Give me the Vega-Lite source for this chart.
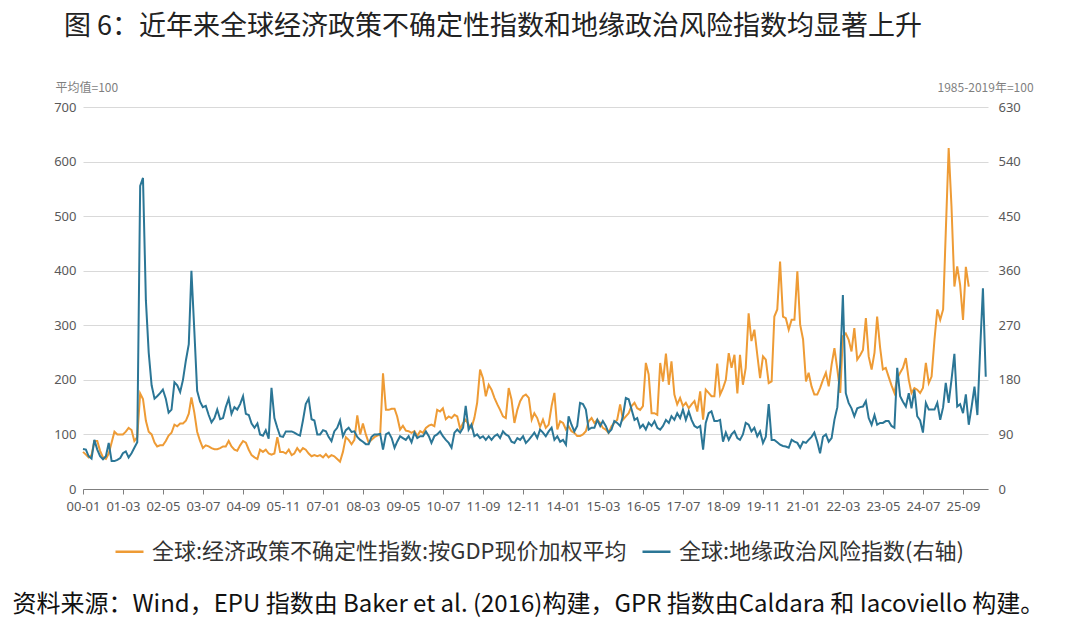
{
"$schema":"https://vega.github.io/schema/vega-lite/v6.json",
"width":905,"height":382,
"autosize":{"type":"none"},
"padding":{"left":83,"top":107,"right":92,"bottom":154},
"background":"white",
"title":{"text":"图 6：近年来全球经济政策不确定性指数和地缘政治风险指数均显著上升","anchor":"start","frame":"group","dx":-19,"offset":40,"fontSize":27,"font":"Noto Sans CJK SC","fontWeight":"normal","color":"#222222"},
"data":{"format":{"parse":{"d":"utc:'%Y-%m'"}},"values":[
{"d":"2000-01","e":68,"g":66},{"d":"2000-02","e":63,"g":65},{"d":"2000-03","e":58,"g":54},{"d":"2000-04","e":62,"g":50},{"d":"2000-05","e":88,"g":81},{"d":"2000-06","e":88,"g":65},{"d":"2000-07","e":70,"g":54},{"d":"2000-08","e":58,"g":49},{"d":"2000-09","e":55,"g":54},{"d":"2000-10","e":65,"g":76},{"d":"2000-11","e":85,"g":46},{"d":"2000-12","e":105,"g":46},
{"d":"2001-01","e":100,"g":48},{"d":"2001-02","e":100,"g":51},{"d":"2001-03","e":100,"g":59},{"d":"2001-04","e":105,"g":62},{"d":"2001-05","e":112,"g":52},{"d":"2001-06","e":108,"g":59},{"d":"2001-07","e":88,"g":68},{"d":"2001-08","e":95,"g":77},{"d":"2001-09","e":175,"g":500},{"d":"2001-10","e":165,"g":513},{"d":"2001-11","e":125,"g":311},{"d":"2001-12","e":105,"g":225},
{"d":"2002-01","e":100,"g":171},{"d":"2002-02","e":85,"g":149},{"d":"2002-03","e":78,"g":153},{"d":"2002-04","e":80,"g":158},{"d":"2002-05","e":80,"g":164},{"d":"2002-06","e":88,"g":149},{"d":"2002-07","e":98,"g":126},{"d":"2002-08","e":103,"g":131},{"d":"2002-09","e":118,"g":176},{"d":"2002-10","e":115,"g":171},{"d":"2002-11","e":120,"g":160},{"d":"2002-12","e":120,"g":180},
{"d":"2003-01","e":125,"g":212},{"d":"2003-02","e":138,"g":239},{"d":"2003-03","e":168,"g":360},{"d":"2003-04","e":140,"g":261},{"d":"2003-05","e":105,"g":162},{"d":"2003-06","e":88,"g":144},{"d":"2003-07","e":75,"g":135},{"d":"2003-08","e":80,"g":137},{"d":"2003-09","e":78,"g":122},{"d":"2003-10","e":75,"g":110},{"d":"2003-11","e":73,"g":117},{"d":"2003-12","e":73,"g":131},
{"d":"2004-01","e":75,"g":115},{"d":"2004-02","e":78,"g":117},{"d":"2004-03","e":78,"g":135},{"d":"2004-04","e":88,"g":149},{"d":"2004-05","e":78,"g":124},{"d":"2004-06","e":72,"g":135},{"d":"2004-07","e":70,"g":131},{"d":"2004-08","e":80,"g":140},{"d":"2004-09","e":88,"g":153},{"d":"2004-10","e":85,"g":124},{"d":"2004-11","e":72,"g":122},{"d":"2004-12","e":62,"g":108},
{"d":"2005-01","e":58,"g":101},{"d":"2005-02","e":55,"g":108},{"d":"2005-03","e":72,"g":90},{"d":"2005-04","e":68,"g":88},{"d":"2005-05","e":72,"g":97},{"d":"2005-06","e":65,"g":83},{"d":"2005-07","e":63,"g":167},{"d":"2005-08","e":65,"g":117},{"d":"2005-09","e":95,"g":101},{"d":"2005-10","e":68,"g":87},{"d":"2005-11","e":68,"g":86},{"d":"2005-12","e":65,"g":95},
{"d":"2006-01","e":72,"g":95},{"d":"2006-02","e":62,"g":95},{"d":"2006-03","e":65,"g":93},{"d":"2006-04","e":75,"g":90},{"d":"2006-05","e":68,"g":88},{"d":"2006-06","e":75,"g":113},{"d":"2006-07","e":72,"g":140},{"d":"2006-08","e":65,"g":149},{"d":"2006-09","e":60,"g":115},{"d":"2006-10","e":62,"g":113},{"d":"2006-11","e":60,"g":90},{"d":"2006-12","e":62,"g":90},
{"d":"2007-01","e":58,"g":97},{"d":"2007-02","e":64,"g":95},{"d":"2007-03","e":58,"g":86},{"d":"2007-04","e":62,"g":79},{"d":"2007-05","e":60,"g":95},{"d":"2007-06","e":55,"g":101},{"d":"2007-07","e":50,"g":113},{"d":"2007-08","e":68,"g":87},{"d":"2007-09","e":95,"g":97},{"d":"2007-10","e":90,"g":101},{"d":"2007-11","e":82,"g":94},{"d":"2007-12","e":90,"g":95},
{"d":"2008-01","e":135,"g":86},{"d":"2008-02","e":100,"g":81},{"d":"2008-03","e":120,"g":78},{"d":"2008-04","e":100,"g":74},{"d":"2008-05","e":85,"g":74},{"d":"2008-06","e":90,"g":86},{"d":"2008-07","e":95,"g":90},{"d":"2008-08","e":98,"g":90},{"d":"2008-09","e":100,"g":91},{"d":"2008-10","e":212,"g":65},{"d":"2008-11","e":145,"g":90},{"d":"2008-12","e":145,"g":93},
{"d":"2009-01","e":147,"g":84},{"d":"2009-02","e":147,"g":68},{"d":"2009-03","e":133,"g":78},{"d":"2009-04","e":109,"g":87},{"d":"2009-05","e":116,"g":84},{"d":"2009-06","e":107,"g":81},{"d":"2009-07","e":106,"g":87},{"d":"2009-08","e":103,"g":77},{"d":"2009-09","e":106,"g":93},{"d":"2009-10","e":97,"g":84},{"d":"2009-11","e":106,"g":87},{"d":"2009-12","e":103,"g":87},
{"d":"2010-01","e":112,"g":95},{"d":"2010-02","e":116,"g":87},{"d":"2010-03","e":118,"g":76},{"d":"2010-04","e":115,"g":87},{"d":"2010-05","e":145,"g":90},{"d":"2010-06","e":142,"g":95},{"d":"2010-07","e":148,"g":87},{"d":"2010-08","e":128,"g":81},{"d":"2010-09","e":133,"g":76},{"d":"2010-10","e":130,"g":68},{"d":"2010-11","e":136,"g":93},{"d":"2010-12","e":133,"g":98},
{"d":"2011-01","e":110,"g":93},{"d":"2011-02","e":121,"g":101},{"d":"2011-03","e":127,"g":137},{"d":"2011-04","e":118,"g":98},{"d":"2011-05","e":112,"g":106},{"d":"2011-06","e":130,"g":87},{"d":"2011-07","e":158,"g":90},{"d":"2011-08","e":219,"g":84},{"d":"2011-09","e":203,"g":87},{"d":"2011-10","e":170,"g":81},{"d":"2011-11","e":191,"g":87},{"d":"2011-12","e":182,"g":81},
{"d":"2012-01","e":167,"g":87},{"d":"2012-02","e":155,"g":90},{"d":"2012-03","e":145,"g":84},{"d":"2012-04","e":133,"g":95},{"d":"2012-05","e":130,"g":90},{"d":"2012-06","e":185,"g":87},{"d":"2012-07","e":164,"g":78},{"d":"2012-08","e":121,"g":76},{"d":"2012-09","e":145,"g":84},{"d":"2012-10","e":161,"g":81},{"d":"2012-11","e":170,"g":87},{"d":"2012-12","e":173,"g":76},
{"d":"2013-01","e":167,"g":81},{"d":"2013-02","e":127,"g":87},{"d":"2013-03","e":139,"g":93},{"d":"2013-04","e":130,"g":84},{"d":"2013-05","e":114,"g":98},{"d":"2013-06","e":127,"g":93},{"d":"2013-07","e":112,"g":87},{"d":"2013-08","e":118,"g":95},{"d":"2013-09","e":152,"g":101},{"d":"2013-10","e":176,"g":81},{"d":"2013-11","e":109,"g":87},{"d":"2013-12","e":124,"g":78},
{"d":"2014-01","e":121,"g":81},{"d":"2014-02","e":109,"g":73},{"d":"2014-03","e":115,"g":120},{"d":"2014-04","e":106,"g":106},{"d":"2014-05","e":103,"g":95},{"d":"2014-06","e":97,"g":104},{"d":"2014-07","e":97,"g":142},{"d":"2014-08","e":100,"g":140},{"d":"2014-09","e":106,"g":131},{"d":"2014-10","e":124,"g":98},{"d":"2014-11","e":130,"g":101},{"d":"2014-12","e":121,"g":101},
{"d":"2015-01","e":127,"g":114},{"d":"2015-02","e":121,"g":104},{"d":"2015-03","e":112,"g":112},{"d":"2015-04","e":109,"g":104},{"d":"2015-05","e":103,"g":93},{"d":"2015-06","e":115,"g":98},{"d":"2015-07","e":121,"g":112},{"d":"2015-08","e":127,"g":109},{"d":"2015-09","e":155,"g":104},{"d":"2015-10","e":127,"g":120},{"d":"2015-11","e":133,"g":150},{"d":"2015-12","e":139,"g":148},
{"d":"2016-01","e":152,"g":131},{"d":"2016-02","e":158,"g":114},{"d":"2016-03","e":148,"g":117},{"d":"2016-04","e":145,"g":101},{"d":"2016-05","e":152,"g":106},{"d":"2016-06","e":231,"g":98},{"d":"2016-07","e":210,"g":109},{"d":"2016-08","e":139,"g":104},{"d":"2016-09","e":139,"g":112},{"d":"2016-10","e":136,"g":101},{"d":"2016-11","e":231,"g":98},{"d":"2016-12","e":197,"g":104},
{"d":"2017-01","e":248,"g":114},{"d":"2017-02","e":191,"g":109},{"d":"2017-03","e":234,"g":120},{"d":"2017-04","e":173,"g":114},{"d":"2017-05","e":155,"g":125},{"d":"2017-06","e":167,"g":117},{"d":"2017-07","e":152,"g":131},{"d":"2017-08","e":158,"g":114},{"d":"2017-09","e":148,"g":128},{"d":"2017-10","e":155,"g":114},{"d":"2017-11","e":161,"g":104},{"d":"2017-12","e":142,"g":101},
{"d":"2018-01","e":179,"g":104},{"d":"2018-02","e":127,"g":65},{"d":"2018-03","e":182,"g":109},{"d":"2018-04","e":176,"g":125},{"d":"2018-05","e":170,"g":128},{"d":"2018-06","e":170,"g":112},{"d":"2018-07","e":230,"g":112},{"d":"2018-08","e":173,"g":114},{"d":"2018-09","e":185,"g":78},{"d":"2018-10","e":200,"g":93},{"d":"2018-11","e":249,"g":81},{"d":"2018-12","e":222,"g":90},
{"d":"2019-01","e":246,"g":95},{"d":"2019-02","e":175,"g":84},{"d":"2019-03","e":246,"g":81},{"d":"2019-04","e":191,"g":90},{"d":"2019-05","e":222,"g":109},{"d":"2019-06","e":322,"g":106},{"d":"2019-07","e":271,"g":95},{"d":"2019-08","e":292,"g":101},{"d":"2019-09","e":246,"g":87},{"d":"2019-10","e":203,"g":95},{"d":"2019-11","e":243,"g":76},{"d":"2019-12","e":237,"g":86},
{"d":"2020-01","e":194,"g":140},{"d":"2020-02","e":197,"g":81},{"d":"2020-03","e":316,"g":81},{"d":"2020-04","e":329,"g":77},{"d":"2020-05","e":417,"g":73},{"d":"2020-06","e":316,"g":71},{"d":"2020-07","e":313,"g":70},{"d":"2020-08","e":292,"g":68},{"d":"2020-09","e":310,"g":81},{"d":"2020-10","e":310,"g":78},{"d":"2020-11","e":399,"g":76},{"d":"2020-12","e":301,"g":68},
{"d":"2021-01","e":274,"g":78},{"d":"2021-02","e":197,"g":76},{"d":"2021-03","e":213,"g":81},{"d":"2021-04","e":188,"g":86},{"d":"2021-05","e":173,"g":93},{"d":"2021-06","e":173,"g":78},{"d":"2021-07","e":185,"g":59},{"d":"2021-08","e":200,"g":86},{"d":"2021-09","e":213,"g":90},{"d":"2021-10","e":188,"g":78},{"d":"2021-11","e":228,"g":84},{"d":"2021-12","e":258,"g":114},
{"d":"2022-01","e":219,"g":135},{"d":"2022-02","e":176,"g":207},{"d":"2022-03","e":280,"g":320},{"d":"2022-04","e":285,"g":158},{"d":"2022-05","e":274,"g":142},{"d":"2022-06","e":252,"g":133},{"d":"2022-07","e":295,"g":120},{"d":"2022-08","e":237,"g":133},{"d":"2022-09","e":245,"g":135},{"d":"2022-10","e":255,"g":136},{"d":"2022-11","e":313,"g":145},{"d":"2022-12","e":243,"g":117},
{"d":"2023-01","e":219,"g":106},{"d":"2023-02","e":250,"g":122},{"d":"2023-03","e":316,"g":106},{"d":"2023-04","e":260,"g":109},{"d":"2023-05","e":219,"g":109},{"d":"2023-06","e":222,"g":112},{"d":"2023-07","e":206,"g":112},{"d":"2023-08","e":190,"g":104},{"d":"2023-09","e":176,"g":101},{"d":"2023-10","e":203,"g":200},{"d":"2023-11","e":213,"g":153},{"d":"2023-12","e":222,"g":144},
{"d":"2024-01","e":240,"g":136},{"d":"2024-02","e":200,"g":158},{"d":"2024-03","e":176,"g":133},{"d":"2024-04","e":185,"g":164},{"d":"2024-05","e":182,"g":120},{"d":"2024-06","e":176,"g":113},{"d":"2024-07","e":185,"g":93},{"d":"2024-08","e":231,"g":142},{"d":"2024-09","e":194,"g":131},{"d":"2024-10","e":206,"g":131},{"d":"2024-11","e":274,"g":131},{"d":"2024-12","e":329,"g":142},
{"d":"2025-01","e":310,"g":114},{"d":"2025-02","e":329,"g":135},{"d":"2025-03","e":470,"g":175},{"d":"2025-04","e":625,"g":142},{"d":"2025-05","e":518,"g":180},{"d":"2025-06","e":371,"g":223},{"d":"2025-07","e":408,"g":136},{"d":"2025-08","e":374,"g":140},{"d":"2025-09","e":310,"g":125},{"d":"2025-10","e":407,"g":156},{"d":"2025-11","e":371,"g":106},{"d":"2025-12","g":135},
{"d":"2026-01","g":169},{"d":"2026-02","g":122},{"d":"2026-03","g":225},{"d":"2026-04","g":331},{"d":"2026-05","g":185}
]},
"encoding":{
"x":{"field":"d","type":"temporal",
"scale":{"type":"utc","domain":[{"year":2000,"month":1,"date":1,"utc":true},{"year":2026,"month":5,"date":25,"utc":true}]},
"axis":{"values":[{"year":2000,"month":1,"date":1,"utc":true},{"year":2001,"month":3,"date":1,"utc":true},{"year":2002,"month":5,"date":1,"utc":true},{"year":2003,"month":7,"date":1,"utc":true},{"year":2004,"month":9,"date":1,"utc":true},{"year":2005,"month":11,"date":1,"utc":true},{"year":2007,"month":1,"date":1,"utc":true},{"year":2008,"month":3,"date":1,"utc":true},{"year":2009,"month":5,"date":1,"utc":true},{"year":2010,"month":7,"date":1,"utc":true},{"year":2011,"month":9,"date":1,"utc":true},{"year":2012,"month":11,"date":1,"utc":true},{"year":2014,"month":1,"date":1,"utc":true},{"year":2015,"month":3,"date":1,"utc":true},{"year":2016,"month":5,"date":1,"utc":true},{"year":2017,"month":7,"date":1,"utc":true},{"year":2018,"month":9,"date":1,"utc":true},{"year":2019,"month":11,"date":1,"utc":true},{"year":2021,"month":1,"date":1,"utc":true},{"year":2022,"month":3,"date":1,"utc":true},{"year":2023,"month":5,"date":1,"utc":true},{"year":2024,"month":7,"date":1,"utc":true},{"year":2025,"month":9,"date":1,"utc":true}],
"format":"%y-%m","grid":false,"labelFontSize":13,"labelColor":"#595959","labelPadding":6,"labelFont":"Noto Sans","labelOverlap":false,"labelFlush":false,"tickColor":"#7f7f7f","domainColor":"#7f7f7f","tickSize":5,"domainWidth":1.2,
"title":"资料来源：Wind，EPU 指数由 Baker et al. (2016)构建，GPR 指数由Caldara 和 Iacoviello 构建。","titleX":-71,"titleY":115,"titleAlign":"left","titleAnchor":"start","titleBaseline":"middle","titleFontSize":24,"titleFontWeight":"normal","titleColor":"#111111","titleLimit":2000,"titleFont":"Noto Sans CJK SC"}}
},
"layer":[
{"mark":{"type":"line","strokeWidth":2,"interpolate":"linear"},
"encoding":{
"y":{"field":"e","type":"quantitative","scale":{"domain":[0,700],"nice":false,"zero":true},
"axis":{"orient":"left","values":[0,100,200,300,400,500,600,700],"grid":true,"gridColor":"#d9d9d9","gridWidth":1,"domain":false,"ticks":false,"labelPadding":7,"labelFontSize":13,"labelColor":"#595959","labelFont":"Noto Sans",
"title":"平均值=100","titleAngle":0,"titleAlign":"left","titleBaseline":"middle","titleX":-28,"titleY":-20,"titleFontSize":12,"titleFontWeight":"normal","titleColor":"#7f7f7f","titleFont":"Noto Sans CJK SC"}},
"color":{"datum":"全球:经济政策不确定性指数:按GDP现价加权平均","type":"nominal",
"scale":{"domain":["全球:经济政策不确定性指数:按GDP现价加权平均","全球:地缘政治风险指数(右轴)"],"range":["#EE9B35","#2B7696"]},
"legend":{"orient":"none","legendX":31,"legendY":429,"direction":"horizontal","title":null,"symbolType":"stroke","symbolSize":784,"symbolStrokeWidth":2.5,"labelFontSize":22,"labelColor":"#333333","labelFont":"Noto Sans CJK SC","labelOffset":7,"columnPadding":10,"labelLimit":1000,"padding":0}}}},
{"mark":{"type":"line","strokeWidth":2,"interpolate":"linear"},
"encoding":{
"y":{"field":"g","type":"quantitative","scale":{"domain":[0,630],"nice":false,"zero":true},
"axis":{"orient":"right","values":[0,90,180,270,360,450,540,630],"grid":false,"domain":false,"ticks":false,"labelPadding":10,"labelFontSize":13,"labelColor":"#595959","labelFont":"Noto Sans",
"title":"1985-2019年=100","titleAngle":0,"titleAlign":"left","titleBaseline":"middle","titleX":-51,"titleY":-20,"titleFontSize":12,"titleFontWeight":"normal","titleColor":"#7f7f7f","titleFont":"Noto Sans CJK SC"}},
"color":{"datum":"全球:地缘政治风险指数(右轴)","type":"nominal"}}}
],
"resolve":{"scale":{"y":"independent"}},
"config":{"view":{"stroke":null},"font":"Noto Sans CJK SC"}
}
